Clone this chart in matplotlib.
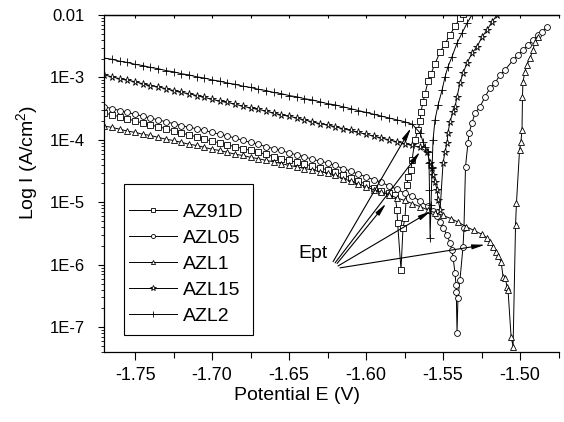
import matplotlib
matplotlib.use('Agg')
import matplotlib.pyplot as plt
from matplotlib.patches import Rectangle
from matplotlib.ticker import FixedLocator, FixedFormatter, LogLocator, NullFormatter, MultipleLocator

plt.rcParams['font.family'] = ['Liberation Sans', 'DejaVu Sans']
plt.rcParams['mathtext.fontset'] = 'custom'
plt.rcParams['mathtext.rm'] = 'Liberation Sans'
plt.rcParams['mathtext.it'] = 'Liberation Sans'
plt.rcParams['mathtext.default'] = 'regular'

# ---------------- DATA ----------------
series_names = ["AZ91D", "AZL05", "AZL1", "AZL15", "AZL2"]

# common cathodic scan potentials (V)
E_scan = [-1.770, -1.765, -1.760, -1.755, -1.750, -1.745, -1.740, -1.735, -1.730, -1.725,
          -1.720, -1.715, -1.710, -1.705, -1.700, -1.695, -1.690, -1.685, -1.680, -1.675,
          -1.670, -1.665, -1.660, -1.655, -1.650, -1.645, -1.640, -1.635, -1.630, -1.625,
          -1.620, -1.615, -1.610, -1.605, -1.600, -1.595, -1.590, -1.585, -1.580, -1.575,
          -1.570, -1.565, -1.560, -1.555, -1.550, -1.545, -1.540, -1.535, -1.530, -1.525]

# AZ91D
AZ91D_logI_cath = [-3.57, -3.60, -3.63, -3.66, -3.70, -3.73, -3.76, -3.79, -3.82, -3.86,
                   -3.89, -3.92, -3.95, -3.99, -4.02, -4.05, -4.08, -4.11, -4.14, -4.17,
                   -4.20, -4.23, -4.27, -4.30, -4.33, -4.36, -4.39, -4.42, -4.45, -4.48,
                   -4.51, -4.56, -4.61, -4.66, -4.71, -4.77, -4.82, -4.85]
AZ91D_E_tail = [-1.5812, -1.5799, -1.5795, -1.5773, -1.5760, -1.5747, -1.5734, -1.5727, -1.5708,
                -1.5701, -1.5682, -1.5662, -1.5649, -1.5643, -1.5630, -1.5617, -1.5597, -1.5578,
                -1.5552, -1.5519, -1.5487, -1.5455, -1.5422, -1.5390, -1.5370]
AZ91D_logI_tail = [-4.88, -5.12, -5.33, -6.08, -5.41, -5.25, -4.72, -4.59, -4.48, -4.32,
                   -4.00, -3.84, -3.70, -3.55, -3.39, -3.26, -3.06, -2.94, -2.78, -2.59,
                   -2.46, -2.32, -2.18, -2.05, -1.98]

# AZL05
AZL05_logI_cath = [-3.47, -3.50, -3.53, -3.56, -3.59, -3.62, -3.65, -3.68, -3.71, -3.74,
                   -3.77, -3.80, -3.82, -3.85, -3.88, -3.91, -3.94, -3.97, -4.01, -4.04,
                   -4.07, -4.11, -4.14, -4.17, -4.21, -4.24, -4.27, -4.31, -4.34, -4.37,
                   -4.41, -4.46, -4.50, -4.55, -4.59, -4.64, -4.68, -4.74, -4.79, -4.85,
                   -4.90, -4.98, -5.06]
AZL05_E_tail = [-1.5565, -1.5539, -1.5519, -1.5500, -1.5474, -1.5455, -1.5442, -1.5435, -1.5422,
                -1.5416, -1.5414, -1.5409, -1.5403, -1.5390, -1.5370, -1.5364, -1.5354, -1.5338,
                -1.5331, -1.5312, -1.5292, -1.5260, -1.5227, -1.5195, -1.5162, -1.5130, -1.5097,
                -1.5045, -1.5013, -1.4981, -1.4948, -1.4916, -1.4883, -1.4857, -1.4825]
AZL05_logI_tail = [-5.14, -5.22, -5.31, -5.41, -5.52, -5.65, -5.76, -5.89, -6.13, -6.32,
                   -6.43, -7.09, -6.53, -6.24, -5.71, -5.41, -4.43, -4.05, -3.89, -3.73,
                   -3.57, -3.47, -3.31, -3.17, -3.09, -2.96, -2.88, -2.72, -2.64, -2.56,
                   -2.48, -2.40, -2.32, -2.27, -2.19]

# AZL1
AZL1_logI_cath = [-3.78, -3.80, -3.83, -3.86, -3.88, -3.91, -3.93, -3.96, -3.99, -4.01,
                  -4.04, -4.07, -4.09, -4.12, -4.15, -4.17, -4.20, -4.23, -4.25, -4.28,
                  -4.30, -4.33, -4.35, -4.38, -4.41, -4.43, -4.46, -4.48, -4.51, -4.53,
                  -4.57, -4.62, -4.66, -4.71, -4.75, -4.80, -4.84, -4.88, -4.93, -4.97,
                  -5.02, -5.07, -5.12, -5.17, -5.21, -5.26, -5.32, -5.39, -5.45, -5.51]
AZL1_E_tail = [-1.5214, -1.5195, -1.5175, -1.5156, -1.5143, -1.5123, -1.5110, -1.5097, -1.5084,
               -1.5078, -1.5058, -1.5045, -1.5029, -1.5023, -1.5003, -1.4994, -1.4987, -1.4984,
               -1.4981, -1.4968, -1.4955, -1.4935, -1.4916, -1.4903, -1.4883]
AZL1_logI_tail = [-5.57, -5.63, -5.71, -5.79, -5.86, -5.95, -6.19, -6.21, -6.35, -6.40,
                  -7.15, -7.31, -5.36, -5.01, -4.16, -4.03, -3.84, -3.31, -3.07, -2.91,
                  -2.80, -2.69, -2.56, -2.43, -2.35]

# AZL15
AZL15_logI_cath = [-2.96, -2.99, -3.02, -3.04, -3.07, -3.10, -3.13, -3.15, -3.18, -3.21,
                   -3.24, -3.26, -3.29, -3.32, -3.35, -3.38, -3.40, -3.43, -3.46, -3.49,
                   -3.51, -3.54, -3.57, -3.60, -3.62, -3.65, -3.68, -3.71, -3.74, -3.76,
                   -3.79, -3.82, -3.85, -3.88, -3.91, -3.94, -3.97, -4.00, -4.03, -4.06,
                   -4.09, -4.12]
AZL15_E_tail = [-1.5604, -1.5584, -1.5571, -1.5565, -1.5552, -1.5539, -1.5532, -1.5519, -1.5500,
                -1.5487, -1.5474, -1.5468, -1.5455, -1.5435, -1.5422, -1.5409, -1.5390, -1.5370,
                -1.5344, -1.5312, -1.5279, -1.5247, -1.5214, -1.5182, -1.5149]
AZL15_logI_tail = [-4.19, -4.37, -4.45, -4.56, -4.67, -4.80, -4.96, -5.12, -4.37, -4.19,
                   -4.05, -3.89, -3.71, -3.55, -3.47, -3.31, -3.09, -2.93, -2.77, -2.61,
                   -2.51, -2.35, -2.24, -2.11, -2.00]

# AZL2
AZL2_logI_cath = [-2.69, -2.71, -2.74, -2.76, -2.79, -2.81, -2.84, -2.86, -2.89, -2.91,
                  -2.94, -2.96, -2.99, -3.01, -3.04, -3.06, -3.09, -3.11, -3.14, -3.16,
                  -3.19, -3.21, -3.24, -3.26, -3.29, -3.31, -3.34, -3.36, -3.39, -3.42,
                  -3.44, -3.47, -3.50, -3.53, -3.56, -3.59, -3.62, -3.65, -3.68, -3.71,
                  -3.75]
AZL2_E_tail = [-1.5649, -1.5630, -1.5617, -1.5597, -1.5591, -1.5588, -1.5584, -1.5578, -1.5571,
               -1.5565, -1.5552, -1.5532, -1.5506, -1.5487, -1.5468, -1.5442, -1.5409, -1.5377,
               -1.5344, -1.5312]
AZL2_logI_tail = [-3.89, -4.03, -4.11, -4.19, -4.37, -4.80, -5.57, -5.04, -4.45, -4.00,
                  -3.68, -3.44, -3.20, -2.99, -2.83, -2.67, -2.45, -2.29, -2.13, -2.00]

y_tick_values = [1e-2, 1e-3, 1e-4, 1e-5, 1e-6, 1e-7]
y_tick_labels = ["0.01", "1E-3", "1E-4", "1E-5", "1E-6", "1E-7"]
x_tick_values = [-1.75, -1.70, -1.65, -1.60, -1.55, -1.50]
x_tick_labels = ["-1.75", "-1.70", "-1.65", "-1.60", "-1.55", "-1.50"]

# ---------------- PLOT ----------------
def build(cath, e_tail, l_tail):
    E = E_scan[:len(cath)] + e_tail
    I = [10 ** v for v in (cath + l_tail)]
    return E, I

curves = {
    "AZ91D": build(AZ91D_logI_cath, AZ91D_E_tail, AZ91D_logI_tail),
    "AZL05": build(AZL05_logI_cath, AZL05_E_tail, AZL05_logI_tail),
    "AZL1": build(AZL1_logI_cath, AZL1_E_tail, AZL1_logI_tail),
    "AZL15": build(AZL15_logI_cath, AZL15_E_tail, AZL15_logI_tail),
    "AZL2": build(AZL2_logI_cath, AZL2_E_tail, AZL2_logI_tail),
}
markers = {"AZ91D": 's', "AZL05": 'o', "AZL1": '^', "AZL15": '*', "AZL2": '+'}
msizes = {"AZ91D": 4.2, "AZL05": 4.2, "AZL1": 4.2, "AZL15": 5.5, "AZL2": 5.5}

W, H = 564, 422
fig = plt.figure(figsize=(W / 100, H / 100), dpi=100)
ax = fig.add_axes([104 / W, 1 - 352 / H, 454.5 / W, 337 / H])

handles = []
for name in series_names:
    E, I = curves[name]
    h, = ax.plot(E, I, color='black', lw=0.7, marker=markers[name], ms=msizes[name],
                 mfc='white', mec='black', mew=0.6, label=name, clip_on=True)
    handles.append(h)

ax.set_yscale('log')
ax.set_xlim(-1.7702, -1.475)
ax.set_ylim(4.0e-8, 1e-2)

ax.yaxis.set_major_locator(FixedLocator(y_tick_values))
ax.yaxis.set_major_formatter(FixedFormatter(y_tick_labels))
ax.yaxis.set_minor_locator(LogLocator(base=10, subs=[2, 3, 4, 5, 6, 7, 8, 9], numticks=20))
ax.yaxis.set_minor_formatter(NullFormatter())
ax.xaxis.set_major_locator(FixedLocator(x_tick_values))
ax.xaxis.set_major_formatter(FixedFormatter(x_tick_labels))
ax.xaxis.set_minor_locator(MultipleLocator(0.025))

ax.spines['right'].set_visible(False)
for s in ['left', 'bottom', 'top']:
    ax.spines[s].set_linewidth(0.9)

ax.tick_params(axis='x', which='major', direction='out', length=6, width=0.8,
               labelsize=13, pad=5, top=False)
ax.tick_params(axis='x', which='minor', direction='out', length=4.5, width=0.8, top=False)
ax.tick_params(axis='y', which='major', direction='out', length=4, width=0.8,
               labelsize=12, pad=10, right=False)
ax.tick_params(axis='y', which='minor', direction='out', length=2.2, width=0.6, right=False)

sec = ax.secondary_xaxis('top')
sec.xaxis.set_major_locator(FixedLocator(x_tick_values))
sec.xaxis.set_minor_locator(MultipleLocator(0.025))
sec.tick_params(axis='x', which='both', direction='in', length=2.5, width=0.8, labeltop=False)
sec.spines['top'].set_linewidth(0.9)

ax.set_xlabel('Potential E (V)', fontsize=14)
ax.xaxis.set_label_coords((297.5 - 104) / 454.5, (352 - 387) / 337)
ax.set_ylabel('Log I (A/cm$^2$)', fontsize=14)
ax.yaxis.set_label_coords((40 - 104) / 454.5, (352 - 162) / 337)

leg = ax.legend(handles=handles, loc='upper left',
                bbox_to_anchor=((129 - 104) / 454.5, (352 - 203) / 337),
                borderaxespad=0, borderpad=0, fontsize=14, frameon=False,
                handlelength=2.47, handletextpad=0.31, labelspacing=0.44, markerscale=0.7)
fig.add_artist(Rectangle((124 / W, 1 - 335 / H), 129 / W, 151 / H, transform=fig.transFigure,
                         fill=False, lw=0.8, ec='black', zorder=10))

# Ept annotation
ax.text(-1.6442, 10 ** -5.89, 'Ept', fontsize=14, ha='left', va='baseline')
arrow_heads = [(-1.5708, 10 ** -3.81), (-1.5649, 10 ** -4.19), (-1.5870, 10 ** -5.02),
               (-1.5578, 10 ** -5.14), (-1.5227, 10 ** -5.68)]
arrow_tails = [(-1.6214, 10 ** -5.95), (-1.6201, 10 ** -5.97), (-1.6188, 10 ** -5.98),
               (-1.6182, 10 ** -6.02), (-1.6169, 10 ** -6.05)]
for head, tail in zip(arrow_heads, arrow_tails):
    ax.annotate('', xy=head, xytext=tail,
                arrowprops=dict(arrowstyle='-|>,head_length=0.75,head_width=0.14',
                                color='black', lw=0.8, shrinkA=0, shrinkB=0,
                                mutation_scale=10))

fig.savefig('out.png', dpi=100)
